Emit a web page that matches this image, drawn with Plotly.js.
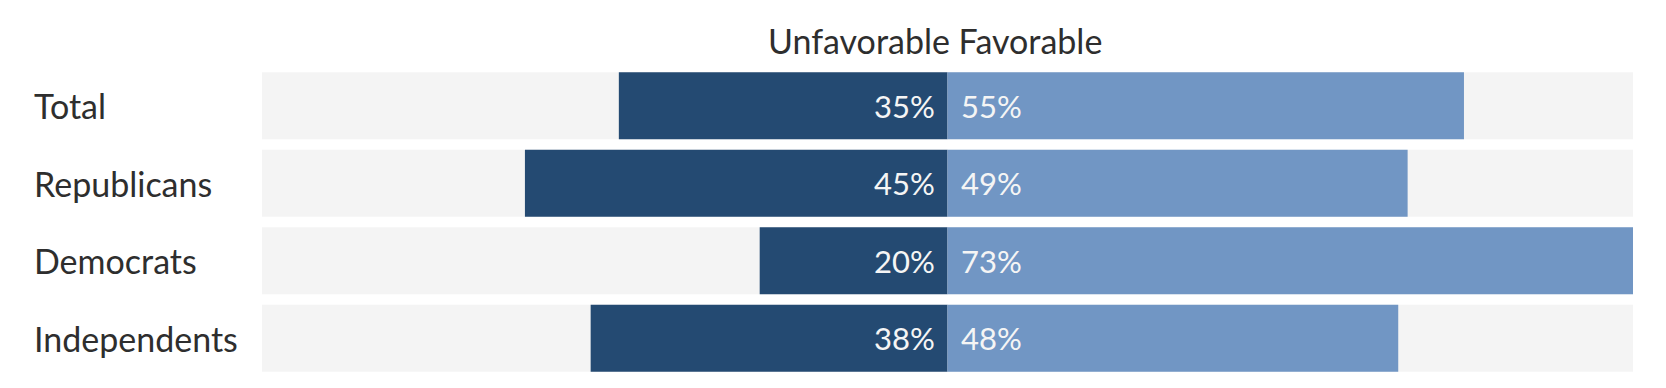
<!DOCTYPE html>
<html>
<head>
<meta charset="utf-8">
<script src="https://cdn.plot.ly/plotly-3.0.1.min.js"></script>
<style>
  html, body { margin: 0; padding: 0; background: #ffffff; }
  #chart { width: 1666px; height: 388px; }
</style>
</head>
<body>
<div id="chart"></div>
<script>
// ---- data ----
const categories = ["Total", "Republicans", "Democrats", "Independents"];
const unfavorable = [35, 45, 20, 38];
const favorable = [55, 49, 73, 48];
const headerText = "Unfavorable Favorable";

// ---- styles ----
const FONT = "Lato, 'Liberation Sans', Arial, sans-serif";
const DARK = "#244a72";
const LIGHT = "#7196c4";
const BG = "#f4f4f4";
const TEXT = "#2e2e2e";

const xMax = Math.max(...unfavorable, ...favorable);

const traces = [
  {
    type: "bar", orientation: "h", y: categories,
    x: categories.map(() => 2 * xMax), base: categories.map(() => -xMax),
    marker: { color: BG, line: { width: 0 } }, hoverinfo: "skip", showlegend: false
  },
  {
    type: "bar", orientation: "h", y: categories,
    x: unfavorable.map(v => -v), base: 0, name: "Unfavorable",
    marker: { color: DARK, line: { width: 0 } }, showlegend: false
  },
  {
    type: "bar", orientation: "h", y: categories,
    x: favorable, base: 0, name: "Favorable",
    marker: { color: LIGHT, line: { width: 0 } }, showlegend: false
  }
];

const annotations = [];
categories.forEach((c, i) => {
  annotations.push({
    xref: "paper", yref: "y", x: 0, y: c, xanchor: "left", yanchor: "middle",
    xshift: -230, text: c, showarrow: false,
    font: { family: FONT, size: 34, color: TEXT }
  });
  annotations.push({
    xref: "x", yref: "y", x: 0, y: c, xanchor: "right", yanchor: "middle",
    xshift: -11, text: unfavorable[i] + "%", showarrow: false,
    font: { family: FONT, size: 31, color: "#f5f5f5" }
  });
  annotations.push({
    xref: "x", yref: "y", x: 0, y: c, xanchor: "left", yanchor: "middle",
    xshift: 11, text: favorable[i] + "%", showarrow: false,
    font: { family: FONT, size: 31, color: "#f5f5f5" }
  });
});
annotations.push({
  xref: "x", yref: "paper", x: 0, y: 1.087, xanchor: "center", yanchor: "middle",
  xshift: -13, text: headerText, showarrow: false,
  font: { family: FONT, size: 34, color: TEXT }
});

const layout = {
  width: 1666, height: 388,
  margin: { l: 262, r: 33, t: 67, b: 11, pad: 0 },
  paper_bgcolor: "#ffffff", plot_bgcolor: "#ffffff",
  barmode: "overlay", bargap: 0.135,
  showlegend: false,
  xaxis: {
    range: [-xMax, xMax], showgrid: false, zeroline: false,
    showticklabels: false, ticks: "", showline: false, fixedrange: true
  },
  yaxis: {
    type: "category", autorange: "reversed", showgrid: false, zeroline: false,
    showticklabels: false, ticks: "", showline: false, fixedrange: true
  },
  annotations: annotations,
  font: { family: FONT, color: TEXT }
};

Plotly.newPlot("chart", traces, layout, { displayModeBar: false, staticPlot: true });
</script>
</body>
</html>
